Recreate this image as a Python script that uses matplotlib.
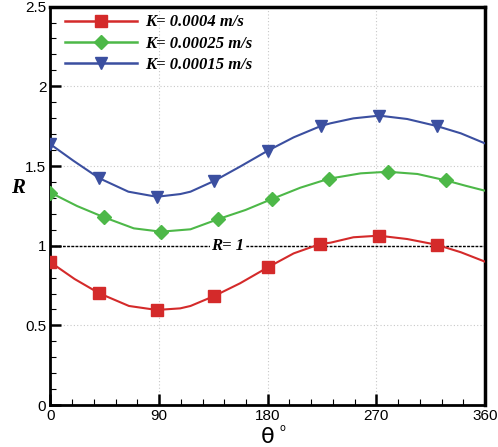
import numpy as np
import matplotlib
matplotlib.use("Agg")
import matplotlib.pyplot as plt
from matplotlib.ticker import MultipleLocator

plt.rcParams["font.family"] = ["Liberation Sans", "DejaVu Sans"]

# marker positions (theta in degrees, R)
red_theta = [0, 40.5, 88, 135.5, 180, 223.5, 272, 320]
red_R = [0.896, 0.701, 0.597, 0.684, 0.864, 1.011, 1.063, 1.006]
green_theta = [0, 44.5, 91.5, 139, 183.5, 230.5, 279.5, 327.5]
green_R = [1.333, 1.178, 1.088, 1.167, 1.293, 1.420, 1.464, 1.410]
blue_theta = [0, 40.5, 88, 135.5, 180, 224, 272.5, 320]
blue_R = [1.636, 1.423, 1.307, 1.406, 1.596, 1.751, 1.816, 1.751]

# curve (markers + points read between them)
red_line_theta = [0, 20, 40.5, 65, 88, 107.5, 116, 135.5, 157, 180, 201.5, 223.5, 232, 251, 272, 295.5, 320, 340, 360]
red_line_R = [0.896, 0.791, 0.701, 0.622, 0.597, 0.607, 0.622, 0.684, 0.764, 0.864, 0.952, 1.011, 1.019, 1.053, 1.063, 1.042, 1.006, 0.959, 0.900]
green_line_theta = [0, 22, 44.5, 69, 91.5, 116, 139, 161.5, 183.5, 207, 230.5, 257, 279.5, 304, 327.5, 344, 360]
green_line_R = [1.333, 1.249, 1.178, 1.109, 1.088, 1.103, 1.167, 1.224, 1.293, 1.364, 1.420, 1.454, 1.464, 1.450, 1.410, 1.376, 1.345]
blue_line_theta = [0, 19, 40.5, 64.5, 88, 107.5, 116, 135.5, 157, 180, 201.5, 224, 232, 251, 272.5, 295.5, 320, 340, 360]
blue_line_R = [1.636, 1.533, 1.423, 1.339, 1.307, 1.324, 1.339, 1.406, 1.496, 1.596, 1.680, 1.751, 1.768, 1.799, 1.816, 1.795, 1.751, 1.705, 1.642]

labels = ["K= 0.0004 m/s", "K= 0.00025 m/s", "K= 0.00015 m/s"]
colors = ["#D42A2A", "#4DB848", "#3B4FA0"]

serif_bi = dict(family="Liberation Serif", weight="bold", style="italic")

fig = plt.figure(figsize=(4.98, 4.47), dpi=100)
ax = fig.add_axes([0.1014, 0.0937, 0.8725, 0.8915])

series = [
    (red_theta, red_R, red_line_theta, red_line_R, "s", 8),
    (green_theta, green_R, green_line_theta, green_line_R, "D", 7.5),
    (blue_theta, blue_R, blue_line_theta, blue_line_R, "v", 9),
]
handles = []
for (mt, mr, lt, lr, mk, ms), c, lab in zip(series, colors, labels):
    ax.plot(lt, lr, color=c, lw=1.5, zorder=3)
    ax.plot(mt, mr, ls="none", marker=mk, ms=ms, color=c, zorder=4)
    h, = ax.plot([], [], color=c, lw=1.8, marker=mk, ms=ms)
    handles.append(h)

ax.axhline(1, color="black", lw=1.0, ls=(0, (2, 1)), zorder=2)
ax.text(147, 1.0, "R= 1", fontsize=12, ha="center", va="center",
        bbox=dict(facecolor="white", edgecolor="none", pad=1), zorder=2.5, **serif_bi)

leg = ax.legend(handles, labels, loc="upper left", bbox_to_anchor=(0.0, 1.018),
                frameon=False, handlelength=4.3, handletextpad=0.5,
                labelspacing=0.32, borderaxespad=0.5,
                prop=dict(size=12, **serif_bi))

ax.set_xlim(0, 360)
ax.set_ylim(0, 2.5)
ax.xaxis.set_major_locator(MultipleLocator(90))
ax.xaxis.set_minor_locator(MultipleLocator(18))
ax.yaxis.set_major_locator(MultipleLocator(0.5))
ax.yaxis.set_minor_locator(MultipleLocator(0.1))
ax.set_xticks([0, 90, 180, 270, 360])
ax.set_xticklabels(["0", "90", "180", "270", "360"])
ax.set_yticks([0, 0.5, 1, 1.5, 2, 2.5])
ax.set_yticklabels(["0", "0.5", "1", "1.5", "2", "2.5"])
ax.tick_params(which="both", direction="in", top=False, right=False, labelsize=11)
ax.tick_params(which="major", length=8, width=1.8, pad=3)
ax.tick_params(which="minor", length=4, width=0.8)
ax.grid(True, which="major", color="#C8C8C8", ls=(0, (1, 2)), lw=0.8)

for side in ["left", "bottom"]:
    ax.spines[side].set_linewidth(2)
for side in ["top", "right"]:
    ax.spines[side].set_linewidth(2.5)

ax.set_ylabel("R", fontsize=15, rotation=0, labelpad=2, va="center", **serif_bi)
ax.yaxis.set_label_coords(-0.075, 0.545)

# x label: theta with a small superscript "o"
fig.text(268 / 498, 1 - 437 / 447, "θ", fontsize=16, family="DejaVu Sans",
         ha="center", va="center")
fig.text(282 / 498, 1 - 428 / 447, "o", fontsize=7, family="DejaVu Sans",
         ha="center", va="center")

fig.savefig("out.png", dpi=100)
